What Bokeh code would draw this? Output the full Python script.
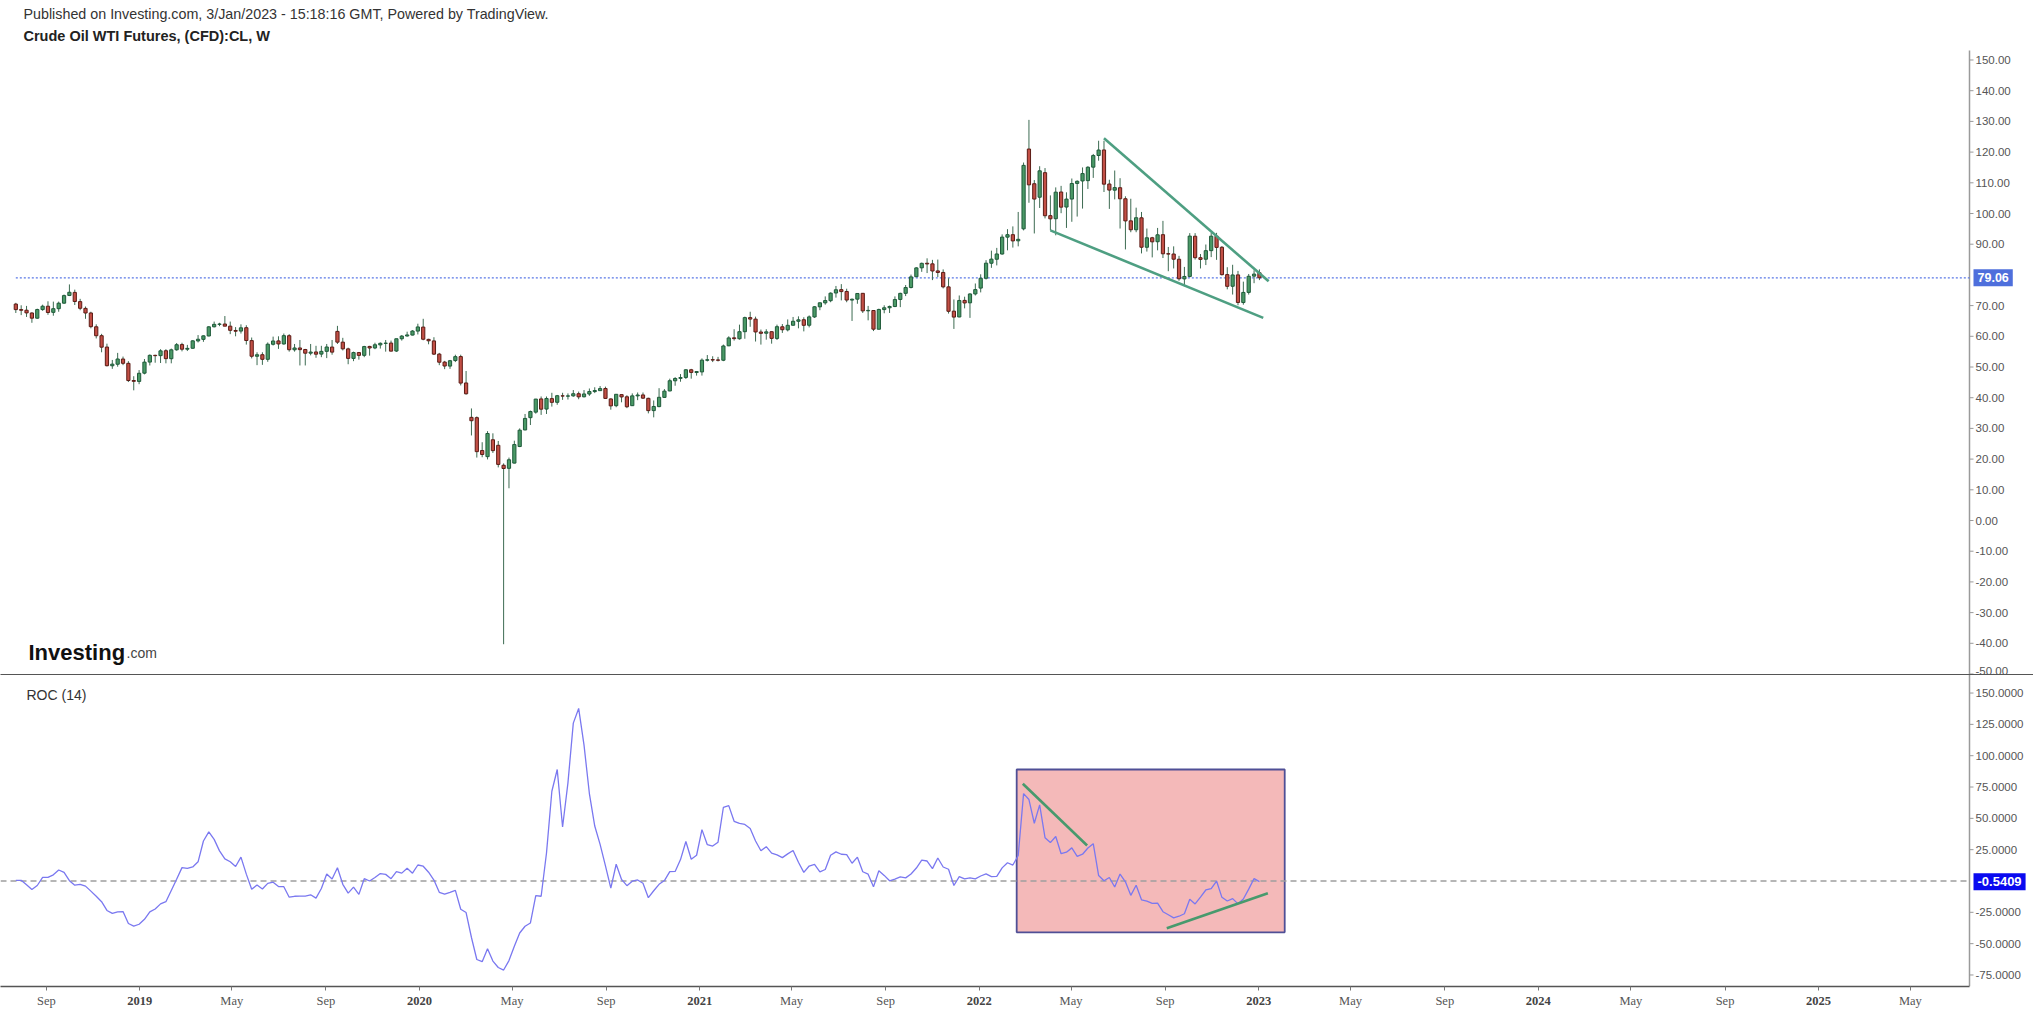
import numpy as np
import pandas as pd
from bokeh.plotting import figure
from bokeh.models import Range1d, FixedTicker, PrintfTickFormatter, Label, ColumnDataSource, LinearAxis
from bokeh.layouts import column
from bokeh.embed import file_html
from bokeh.resources import INLINE

# ---------------- data (weekly WTI candles, week starting 2018-07-23) ----------------
first_week = "2018-07-23"

# closes of the 14 weeks before the first drawn candle (needed for ROC(14))
warmup_close = [68.38, 68.10, 69.72, 70.70, 71.28, 67.88, 65.81, 65.74, 65.06, 68.58,
                74.15, 73.80, 71.01, 70.46]

open_2018 = [70.5, 68.7, 68.5, 67.6, 65.9, 68.7, 69.8, 67.8, 69.0, 70.8, 73.3, 74.3, 71.3, 69.1,
             67.6, 63.1, 60.2, 56.5, 50.4, 50.9, 52.6, 51.2, 45.6, 45.3]
high_2018 = [70.9, 70.1, 69.9, 67.8, 69.0, 70.3, 71.4, 71.3, 71.3, 73.6, 76.9, 75.2, 72.2, 69.7,
             68.0, 63.9, 60.8, 57.6, 52.3, 54.6, 53.4, 51.9, 47.0, 49.0]
low_2018 = [67.6, 66.9, 66.3, 64.4, 65.7, 68.3, 67.0, 66.7, 68.0, 70.6, 73.1, 70.2, 68.5, 65.7,
            62.6, 59.3, 54.8, 50.2, 49.4, 50.1, 50.6, 45.1, 42.4, 44.4]
close_2018 = [68.69, 68.49, 67.63, 65.91, 68.72, 69.80, 67.75, 68.99, 70.78, 73.25, 74.34, 71.34,
              69.12, 67.59, 63.14, 60.19, 56.46, 50.42, 50.93, 52.61, 51.20, 45.59, 45.33, 47.96]

open_2019 = [48.0, 51.6, 53.8, 53.7, 55.3, 52.7, 55.6, 57.3, 55.8, 56.1, 58.5, 59.0, 60.1, 63.1,
             63.9, 64.0, 63.3, 61.9, 61.7, 62.8, 58.6, 53.5, 54.0, 52.5, 57.4, 58.5, 57.5, 60.2,
             55.6, 56.2, 55.7, 54.5, 54.9, 54.2, 55.1, 56.5, 61.6, 58.1, 55.9, 52.8, 54.7, 53.8,
             56.7, 56.2, 57.2, 57.7, 57.8, 55.2, 59.2, 60.1, 60.4, 61.7]
high_2019 = [52.6, 54.1, 54.0, 55.8, 55.8, 56.0, 57.8, 57.9, 57.2, 58.7, 60.4, 60.3, 63.3, 64.8,
             64.4, 66.6, 64.8, 63.0, 63.9, 63.6, 59.6, 54.8, 54.8, 58.0, 59.9, 60.0, 60.9, 60.7,
             57.5, 58.8, 55.9, 57.5, 56.9, 56.9, 57.5, 58.8, 63.4, 59.5, 56.3, 55.0, 54.9, 56.9,
             56.9, 57.9, 58.0, 58.8, 58.6, 59.2, 60.4, 61.5, 62.0, 64.1]
low_2019 = [47.6, 50.5, 51.4, 51.3, 51.2, 51.2, 55.3, 55.1, 55.2, 56.0, 58.0, 58.2, 60.0, 62.9,
            63.3, 63.8, 60.7, 60.0, 60.9, 57.3, 52.8, 50.6, 50.7, 51.7, 57.0, 55.9, 57.3, 55.0,
            55.0, 50.5, 50.5, 53.8, 53.0, 53.2, 52.9, 54.0, 57.5, 55.4, 50.9, 51.9, 52.4, 53.2,
            53.7, 55.8, 56.0, 55.0, 55.1, 54.9, 58.6, 59.9, 60.3, 60.6]
close_2019 = [51.59, 53.80, 53.69, 55.26, 52.72, 55.59, 57.26, 55.80, 56.07, 58.52, 59.04, 60.14,
              63.08, 63.89, 64.00, 63.30, 61.94, 61.66, 62.76, 58.63, 53.50, 53.99, 52.51, 57.43,
              58.47, 57.51, 60.21, 55.63, 56.20, 55.66, 54.50, 54.87, 54.17, 55.10, 56.52, 54.85,
              58.09, 55.91, 52.81, 54.70, 53.78, 56.66, 56.20, 57.24, 57.72, 57.77, 55.17, 59.20,
              60.07, 60.44, 61.72, 63.05]

open_2020 = [63.0, 59.0, 58.5, 54.2, 51.6, 50.3, 52.1, 53.4, 44.8, 33.6, 33.5, 22.8, 20.8, 26.3,
             24.5, 18.0, 17.0, 18.7, 24.1, 29.5, 33.5, 35.3, 39.6, 36.3, 39.7, 38.5, 40.6, 40.5,
             40.6, 41.3, 40.3, 41.2, 42.0, 42.3, 43.0, 39.6, 37.4, 41.0, 40.3, 37.4, 40.6, 40.9,
             39.8, 35.8, 37.1, 40.1, 42.2, 45.5, 46.3, 46.6, 49.1, 48.2]
high_2020 = [65.7, 59.2, 59.7, 54.6, 52.0, 52.3, 54.0, 54.0, 48.7, 36.5, 33.9, 25.5, 29.1, 28.4,
             25.9, 18.6, 20.5, 26.0, 30.0, 34.7, 35.8, 39.6, 40.4, 40.4, 41.6, 40.9, 41.6, 41.4,
             42.5, 42.0, 42.5, 43.0, 43.4, 43.8, 43.6, 39.8, 41.2, 41.0, 40.8, 41.4, 41.7, 41.7,
             40.0, 39.1, 43.1, 42.8, 46.2, 46.7, 47.7, 49.3, 49.4, 48.7]
low_2020 = [58.7, 57.4, 53.9, 50.6, 49.3, 49.4, 51.6, 44.0, 41.0, 27.7, 20.5, 20.6, 19.9, 22.0,
            17.3, -40.3, 10.5, 18.6, 23.9, 29.4, 31.1, 34.8, 34.4, 34.7, 37.1, 37.7, 39.3, 39.4,
            40.3, 39.5, 40.1, 40.6, 41.5, 42.2, 39.6, 36.1, 36.9, 38.5, 36.6, 37.3, 39.2, 39.6,
            34.9, 33.6, 36.9, 39.9, 42.1, 43.9, 45.2, 46.1, 46.2, 47.2]
close_2020 = [59.04, 58.54, 54.19, 51.56, 50.32, 52.05, 53.38, 44.76, 41.28, 32.50, 22.43, 21.51,
              28.34, 22.76, 18.27, 16.94, 19.78, 24.74, 29.43, 33.25, 35.49, 39.55, 36.26, 39.75,
              38.49, 40.65, 40.55, 40.59, 41.29, 40.27, 41.22, 42.01, 42.34, 42.97, 39.77, 37.33,
              41.11, 40.25, 37.05, 40.60, 40.88, 39.85, 35.79, 37.14, 40.13, 42.15, 45.53, 46.26,
              46.57, 49.10, 48.23, 48.52]

open_2021 = [48.4, 52.2, 52.4, 52.3, 52.2, 56.9, 59.5, 59.2, 61.5, 66.1, 65.6, 61.4, 61.0, 61.5,
             59.3, 63.1, 62.1, 63.6, 64.9, 65.4, 63.6, 66.3, 69.6, 70.9, 71.6, 74.1, 75.2, 74.6,
             71.8, 72.1, 74.0, 68.3, 68.4, 62.3, 68.7, 69.3, 69.7, 72.0, 74.0, 75.9, 79.4, 82.3,
             83.8, 83.6, 81.3, 80.8, 76.1, 68.2, 66.3, 71.7, 70.9, 73.8]
high_2021 = [52.8, 53.9, 53.5, 53.3, 57.3, 60.0, 62.3, 63.8, 66.4, 68.0, 66.4, 62.2, 62.3, 61.6,
             63.8, 64.0, 65.5, 66.3, 66.5, 66.2, 66.8, 69.8, 71.0, 73.0, 74.3, 76.4, 77.0, 75.5,
             72.3, 74.0, 74.0, 69.9, 68.5, 69.0, 70.1, 70.0, 73.0, 74.2, 76.7, 80.1, 82.5, 84.0,
             85.4, 84.9, 85.0, 81.8, 78.9, 72.0, 73.3, 72.9, 74.0, 77.2]
low_2021 = [47.2, 51.8, 51.6, 51.8, 51.9, 56.8, 58.6, 58.9, 59.2, 63.1, 58.3, 57.3, 58.9, 57.6,
            58.8, 61.1, 61.6, 63.5, 62.6, 61.6, 62.9, 66.0, 68.5, 70.3, 71.1, 72.6, 71.7, 71.1,
            65.0, 70.6, 67.6, 65.2, 61.7, 62.3, 67.5, 67.6, 69.5, 69.5, 73.1, 75.6, 79.4, 81.0,
            80.6, 78.3, 79.3, 75.6, 67.4, 62.4, 66.2, 69.1, 66.0, 73.3]
close_2021 = [52.24, 52.36, 52.27, 52.20, 56.85, 59.47, 59.24, 61.50, 66.09, 65.61, 61.42, 60.97,
              61.45, 59.32, 63.13, 62.14, 63.58, 64.90, 65.37, 63.58, 66.32, 69.62, 70.91, 71.64,
              74.05, 75.16, 74.56, 71.81, 72.07, 73.95, 68.28, 68.44, 62.32, 68.74, 69.29, 69.72,
              71.97, 73.98, 75.88, 79.35, 82.28, 83.76, 83.57, 81.27, 80.79, 76.10, 68.15, 66.26,
              71.67, 70.86, 73.79, 75.21]

open_2022 = [75.7, 78.9, 83.8, 85.1, 86.8, 92.3, 93.1, 91.1, 95.0, 121.0, 109.7, 105.3, 113.3,
             99.3, 98.3, 107.0, 102.1, 104.7, 109.8, 110.6, 110.7, 115.1, 118.9, 120.7, 109.6,
             107.6, 108.4, 104.8, 97.6, 94.7, 98.6, 89.0, 92.1, 90.8, 93.1, 86.9, 86.8, 85.1,
             78.7, 79.5, 92.6, 85.6, 85.1, 87.9, 92.6, 89.0, 80.1, 76.3, 80.0, 71.0, 74.3, 79.6,
             80.7]
high_2022 = [80.2, 84.8, 87.9, 88.8, 93.2, 94.9, 95.8, 100.5, 116.6, 130.5, 110.9, 115.4, 114.8,
             105.9, 108.5, 109.0, 106.9, 111.4, 110.8, 115.0, 115.4, 119.4, 123.7, 123.7, 111.0,
             114.0, 111.5, 105.6, 104.8, 101.9, 100.5, 95.1, 92.4, 95.3, 97.6, 89.1, 89.3, 86.2,
             82.6, 93.6, 93.6, 86.8, 89.9, 93.7, 93.7, 89.4, 82.5, 83.3, 81.3, 77.8, 80.3, 81.5,
             81.8]
low_2022 = [74.3, 78.5, 82.3, 83.1, 86.6, 88.0, 88.9, 89.3, 94.5, 103.5, 93.5, 101.8, 98.4,
            94.5, 92.9, 100.1, 95.3, 97.3, 99.0, 101.6, 108.0, 111.6, 117.2, 107.0, 101.5,
            104.6, 95.1, 88.3, 93.9, 93.9, 87.0, 87.6, 85.7, 88.0, 85.5, 81.2, 82.1, 78.1,
            76.3, 79.2, 85.0, 82.1, 83.2, 85.8, 84.9, 79.8, 75.3, 73.6, 70.1, 70.3, 73.6, 77.3,
            78.3]
close_2022 = [78.90, 83.82, 85.14, 86.82, 92.31, 93.10, 91.07, 91.59, 115.68, 109.33, 104.70,
              113.90, 99.27, 98.26, 106.95, 102.07, 104.69, 109.77, 110.49, 113.00, 115.07, 118.87,
              120.67, 109.56, 107.62, 108.43, 104.79, 97.59, 94.70, 98.62, 89.01, 92.09, 90.77,
              93.06, 86.87, 86.79, 85.11, 78.74, 79.49, 92.64, 85.61, 85.05, 87.90, 92.61, 88.96,
              80.08, 76.28, 79.98, 71.02, 74.29, 79.56, 80.26, 79.06]   # last = week of 2023-01-02

price_ticks = [150, 140, 130, 120, 110, 100, 90, 70, 60, 50, 40, 30, 20, 10, 0,
               -10, -20, -30, -40, -50]
roc_ticks = [150, 125, 100, 75, 50, 25, -25, -50, -75]

xtick_dates = ["2018-09-01", "2019-01-01", "2019-05-01", "2019-09-01", "2020-01-01", "2020-05-01",
               "2020-09-01", "2021-01-01", "2021-05-01", "2021-09-01", "2022-01-01", "2022-05-01",
               "2022-09-01", "2023-01-01", "2023-05-01", "2023-09-01", "2024-01-01", "2024-05-01",
               "2024-09-01", "2025-01-01", "2025-05-01"]
xtick_labels = ["Sep", "2019", "May", "Sep", "2020", "May", "Sep", "2021", "May", "Sep", "2022",
                "May", "Sep", "2023", "May", "Sep", "2024", "May", "Sep", "2025", "May"]

# drawings (date, value) pairs
wedge_upper = [("2022-06-13", 124.5), ("2023-01-14", 77.9)]
wedge_lower = [("2022-04-04", 94.5), ("2023-01-07", 66.0)]
roc_box = [("2022-02-19", 89.0), ("2023-02-04", -41.0)]
roc_line_top = [("2022-02-27", 77.6), ("2022-05-22", 28.3)]
roc_line_bottom = [("2022-09-03", -37.7), ("2023-01-13", -9.7)]

title_1 = "Published on Investing.com, 3/Jan/2023 - 15:18:16 GMT, Powered by TradingView."
title_2 = "Crude Oil WTI Futures, (CFD):CL, W"

# ---------------- assemble ----------------
o = np.array(open_2018 + open_2019 + open_2020 + open_2021 + open_2022, dtype=float)
h = np.array(high_2018 + high_2019 + high_2020 + high_2021 + high_2022, dtype=float)
l = np.array(low_2018 + low_2019 + low_2020 + low_2021 + low_2022, dtype=float)
c = np.array(close_2018 + close_2019 + close_2020 + close_2021 + close_2022, dtype=float)
n = len(c)
assert len(o) == len(h) == len(l) == n

def ms(d):
    return float(pd.Timestamp(d).value // 10**6)

WEEK = 7 * 86400000.0
DAY = 86400000.0
dates = pd.date_range(first_week, periods=n, freq="7D")
x = np.array([ms(d) for d in dates])

allc = np.array(warmup_close + list(c))
roc = 100.0 * (allc[14:] - allc[:-14]) / allc[:-14]

up = c >= o
src = ColumnDataSource(dict(
    x=x, o=o, h=h, l=l, c=c,
    top=np.maximum(o, c), bottom=np.minimum(o, c),
    fill=np.where(up, "#4A9966", "#C24F45"),
    line=np.where(up, "#1F5A3A", "#5C1C16"),
))

# layout constants (frames span the full width; the price scale sits at AXIS_PX)
W = 2033
TOP_H = 674
BOT_H = 338
AXIS_PX = 1969
PX_PER_YEAR = 279.7
x_start = ms("2018-07-03")
x_end = x_start + W / PX_PER_YEAR * 365.25 * DAY
x_axis = x_start + AXIS_PX / PX_PER_YEAR * 365.25 * DAY
tick_len = 4 * 365.25 * DAY / PX_PER_YEAR
xr = Range1d(x_start, x_end)

FONT = "Liberation Sans"
AX_COL = "#9a9a9a"
LBL_COL = "#555555"

def style_y(ax, ticks, fmt):
    ax.ticker = FixedTicker(ticks=ticks)
    ax.formatter = PrintfTickFormatter(format=fmt)
    ax.axis_line_color = None
    ax.major_tick_line_color = None
    ax.major_tick_out = 0
    ax.major_tick_in = 0
    ax.minor_tick_line_color = None
    ax.major_label_text_color = LBL_COL
    ax.major_label_text_font = FONT
    ax.major_label_text_font_size = "11.5px"
    ax.major_label_standoff = -(W - AXIS_PX - 6)   # labels start 6px right of the scale line

# ---------------- top panel ----------------
y_top = Range1d(-50.16, 169.38)
top = figure(width=W, height=TOP_H, x_range=xr, y_range=y_top,
             output_backend="svg", toolbar_location=None, y_axis_location="right",
             x_axis_location=None, min_border_left=0, min_border_right=0,
             min_border_top=0, min_border_bottom=0, outline_line_color=None,
             background_fill_color="white", border_fill_color="white")
top.grid.visible = False
style_y(top.yaxis[0], price_ticks, "%.2f")

# price-scale line and its ticks
top.segment([x_axis], [-50.16], [x_axis], [153.1], line_color=AX_COL, line_width=1.5)
top.segment([x_axis] * len(price_ticks), price_ticks,
            [x_axis + tick_len] * len(price_ticks), price_ticks,
            line_color=AX_COL, line_width=1)

# last price dotted line
top.line([x[0], x_axis], [c[-1], c[-1]], line_color="#5A78E6", line_width=1.2, line_dash="2 2")

top.segment(x0="x", y0="l", x1="x", y1="h", source=src, line_color="#3D6B52", line_width=1)
top.vbar(x="x", width=0.6 * WEEK, top="top", bottom="bottom", source=src,
         fill_color="fill", line_color="line", line_width=1)

for seg in (wedge_upper, wedge_lower):
    top.line([ms(seg[0][0]), ms(seg[1][0])], [seg[0][1], seg[1][1]],
             line_color="#4E9F82", line_width=2.6)

top.add_layout(Label(x=23, y=TOP_H - 13, x_units="screen", y_units="screen", text=title_1,
                     text_font=FONT, text_font_size="14.3px", text_color="#333333",
                     text_baseline="alphabetic"))
top.add_layout(Label(x=23, y=TOP_H - 35, x_units="screen", y_units="screen", text=title_2,
                     text_font=FONT, text_font_size="14.5px", text_font_style="bold",
                     text_color="#222222", text_baseline="alphabetic"))
top.add_layout(Label(x=28, y=TOP_H - 652, x_units="screen", y_units="screen", text="Investing",
                     text_font=FONT, text_font_size="22px", text_font_style="bold",
                     text_color="#111111", text_baseline="alphabetic"))
top.add_layout(Label(x=126, y=TOP_H - 652, x_units="screen", y_units="screen", text=".com",
                     text_font=FONT, text_font_size="14px", text_color="#444444",
                     text_baseline="alphabetic"))
top.add_layout(Label(x=AXIS_PX + 4, y=c[-1], x_units="screen", y_units="data",
                     text=f"{c[-1]:.2f}", text_font=FONT, text_font_size="12.5px",
                     text_font_style="bold", text_color="white", text_baseline="middle",
                     background_fill_color="#4E6FDC", padding=4))

# ---------------- bottom panel ----------------
y_bot = Range1d(-84.2, 164.8)
bot = figure(width=W, height=BOT_H, x_range=xr, y_range=y_bot,
             output_backend="svg", toolbar_location=None, y_axis_location="right",
             x_axis_location="below", min_border_left=0, min_border_right=0,
             min_border_top=0, min_border_bottom=26, outline_line_color=None,
             background_fill_color="white", border_fill_color="white")
bot.grid.visible = False
style_y(bot.yaxis[0], roc_ticks, "%.4f")

tick_ms = [int(ms(d)) for d in xtick_dates]
is_year = [lab.isdigit() for lab in xtick_labels]

# month labels (all tick marks drawn here; year slots left blank)
xa = bot.xaxis[0]
xa.ticker = FixedTicker(ticks=tick_ms)
xa.major_label_overrides = {t: ("" if y else lab) for t, lab, y in zip(tick_ms, xtick_labels, is_year)}
xa.bounds = (x_start, x_axis)
xa.axis_line_color = "#555555"
xa.axis_line_width = 1.5
xa.major_tick_line_color = "#777777"
xa.major_tick_out = 4
xa.major_tick_in = 0
xa.minor_tick_line_color = None
xa.major_label_text_color = LBL_COL
xa.major_label_text_font = "Liberation Sans Narrow"
xa.major_label_text_font_size = "12.5px"
xa.major_label_standoff = 3

# bold year labels, lifted into the same row as the month labels
year_ticks = [t for t, y in zip(tick_ms, is_year) if y]
ya = LinearAxis(ticker=FixedTicker(ticks=year_ticks),
                major_label_overrides={t: lab for t, lab, y in zip(tick_ms, xtick_labels, is_year) if y},
                axis_line_color=None, major_tick_line_color=None, major_tick_in=0, major_tick_out=0,
                minor_tick_line_color=None, major_label_text_color="#444444",
                major_label_text_font="Liberation Sans Narrow", major_label_text_font_size="12.5px",
                major_label_text_font_style="bold", major_label_standoff=-14)
bot.add_layout(ya, "below")

# separator line between the panes (line-only axis on top of the ROC pane)
sep = LinearAxis(ticker=FixedTicker(ticks=[]), axis_line_color="#555555", axis_line_width=1.2,
                 major_tick_in=0, major_tick_out=0, minor_tick_line_color=None,
                 major_label_standoff=0, major_label_text_font_size="0px")
bot.add_layout(sep, "above")

(bx0, by0), (bx1, by1) = roc_box
bot.quad(left=[ms(bx0)], right=[ms(bx1)], top=[by0], bottom=[by1],
         fill_color="#F4B9B9", line_color="#4F4F96", line_width=1.8)
bot.line([x_start, x_axis], [0, 0], line_color="#9E9E9E", line_width=1.3, line_dash="6 4")
bot.line(x, roc, line_color="#7A78F0", line_width=1.3)
for seg in (roc_line_top, roc_line_bottom):
    bot.line([ms(seg[0][0]), ms(seg[1][0])], [seg[0][1], seg[1][1]],
             line_color="#479A6D", line_width=2.6)

bot.segment([x_axis], [-84.2], [x_axis], [164.8], line_color=AX_COL, line_width=1.5)
bot.segment([x_axis] * len(roc_ticks), roc_ticks,
            [x_axis + tick_len] * len(roc_ticks), roc_ticks,
            line_color=AX_COL, line_width=1)

bot.add_layout(Label(x=26, y=148.5, x_units="screen", y_units="data", text="ROC (14)",
                     text_font=FONT, text_font_size="14px", text_color="#333333",
                     text_baseline="alphabetic"))
bot.add_layout(Label(x=AXIS_PX + 4, y=roc[-1], x_units="screen", y_units="data",
                     text=f"{roc[-1]:.4f}", text_font=FONT, text_font_size="13px",
                     text_font_style="bold", text_color="white", text_baseline="middle",
                     background_fill_color="#0A0AF0", padding=4))

layout = column(top, bot, spacing=0)
open("out.html", "w").write(file_html(layout, INLINE))
